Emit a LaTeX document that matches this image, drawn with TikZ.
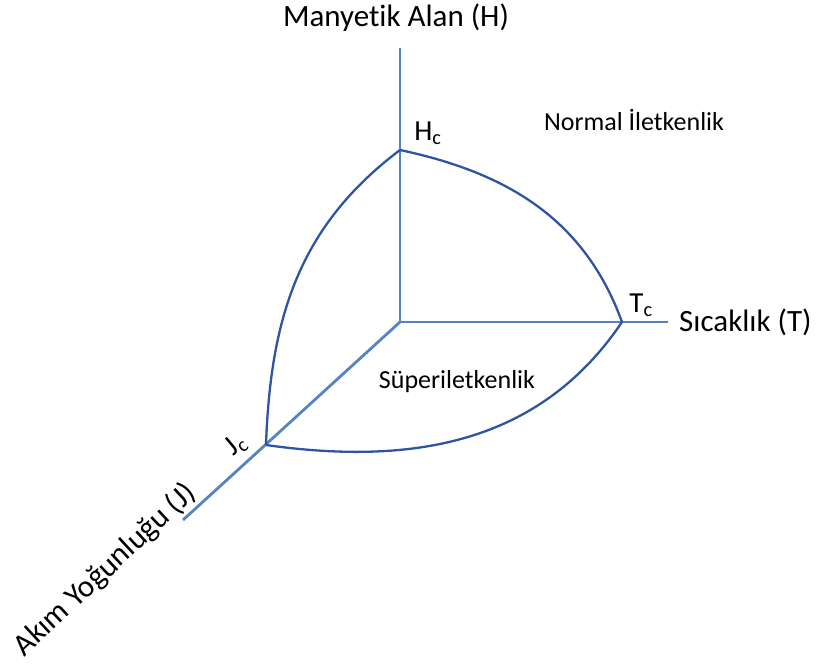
\documentclass[tikz,border=0pt]{standalone}
\usepackage{fontspec}
\setmainfont{Carlito}[Ligatures=NoCommon]
\begin{document}
\begin{tikzpicture}[x=1pt,y=-1pt,
  axis/.style={draw=axisblue,line width=2.8pt},
  border/.style={draw=curveblue,line width=2.3pt,line join=round},
  biglabel/.style={font=\fontsize{31}{35}\selectfont,inner sep=0pt},
  smalllabel/.style={font=\fontsize{26}{30}\selectfont,inner sep=0pt},
  critlabel/.style={font=\fontsize{29}{32}\selectfont,inner sep=0pt}]
\definecolor{axisblue}{HTML}{5585C0}
\definecolor{curveblue}{HTML}{2F55A0}
\useasboundingbox (0,0) rectangle (816,666);
\coordinate (O) at (400,322);
\coordinate (Htop) at (400,48);
\coordinate (Tend) at (668,322);
\coordinate (Jend) at (183,520);
\coordinate (Hc) at (400,150);
\coordinate (Tc) at (622,322);
\coordinate (Jc) at (266,445);
\draw[axis] (O) -- (Htop);
\draw[axis] (O) -- (Tend);
\draw[axis] (O) -- (Jend);
\draw[border] (Hc) to[out=-12,in=110] (Tc);
\draw[border] (Hc) to[out=217,in=88] (Jc);
\draw[border] (Tc) to[out=236,in=-8] (Jc);
\node[biglabel] (hlab) at (396,18) {Manyetik Alan (H)};
\node[biglabel,anchor=west] (tlab) at (679,322) {Sıcaklık (T)};
\node[biglabel,rotate=43] (jlab) at (105,570) {Akım Yoğunluğu (J)};
\node[smalllabel] (nlab) at (634,120) {Normal İletkenlik};
\node[smalllabel] (slab) at (457,382) {Süperiletkenlik};
\node[critlabel] (hclab) at (428,133) {H\textsubscript{c}};
\node[critlabel] (tclab) at (641,305) {T\textsubscript{c}};
\node[critlabel,rotate=40] (jclab) at (236,445) {J\textsubscript{c}};
\end{tikzpicture}
\end{document}
